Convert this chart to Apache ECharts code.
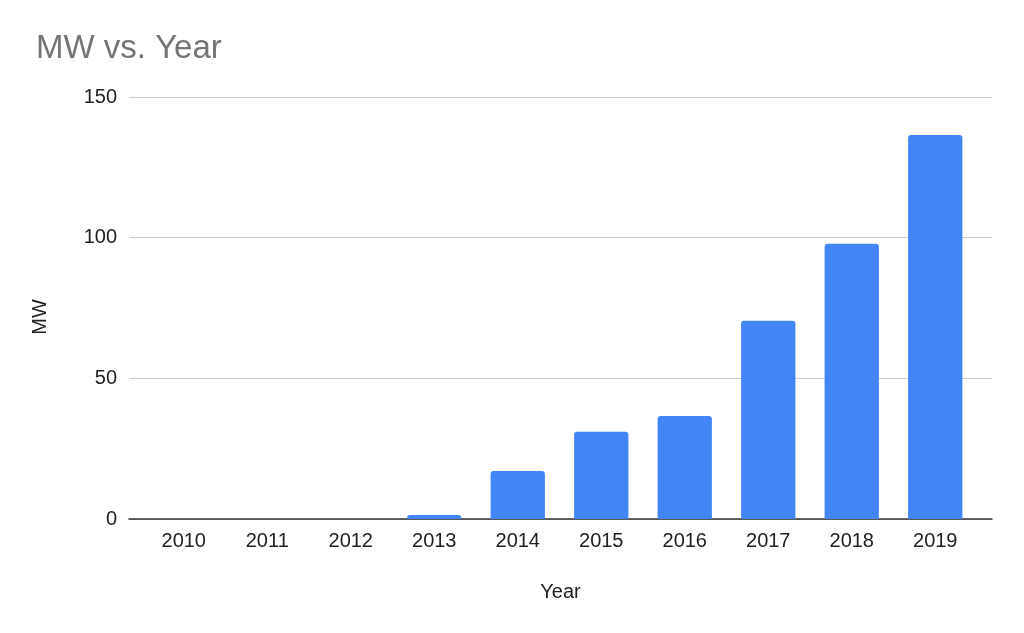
<!DOCTYPE html>
<html><head><meta charset="utf-8">
<script src="https://cdn.jsdelivr.net/npm/echarts@6/dist/echarts.min.js"></script>
<style>html,body{margin:0;padding:0;background:#fff}#c{width:1024px;height:633px}</style>
</head><body><div id="c"></div>
<script>
const years = ['2010','2011','2012','2013','2014','2015','2016','2017','2018','2019'];
const mw = [0, 0, 0, 1.4, 17.1, 31, 36.6, 70.5, 97.8, 136.5];
const yTicks = [0, 50, 100, 150];

const FONT = 'Arial';
const chart = echarts.init(document.getElementById('c'));
chart.setOption({
  animation: false,
  title: { text: 'MW vs. Year', left: 31, top: 27,
    textStyle: { fontFamily: FONT, fontSize: 33, fontWeight: 'normal', color: '#757575' } },
  grid: [
    { left: 129, right: 32, top: 97, bottom: 114 },
    { left: 142, right: 47, top: 97, bottom: 114 }
  ],
  graphic: [{
    type: 'text', x: 40, y: 317, rotation: Math.PI / 2,
    style: { text: 'MW', font: '20px Arial', fill: '#222', align: 'center', verticalAlign: 'middle' }
  }],
  xAxis: [
    { type: 'value', gridIndex: 0, min: 0, max: 1, show: true,
      axisLine: { show: true, lineStyle: { color: '#333', width: 1.5 } },
      axisTick: { show: false }, axisLabel: { show: false }, splitLine: { show: false },
      name: 'Year', nameLocation: 'middle', nameGap: 63,
      nameTextStyle: { fontFamily: FONT, fontSize: 20, color: '#222' } },
    { type: 'category', gridIndex: 1, data: years,
      axisLine: { show: false }, axisTick: { show: false },
      axisLabel: { fontFamily: FONT, fontSize: 20, color: '#222', margin: 12 } }
  ],
  yAxis: [
    { type: 'value', gridIndex: 0, min: yTicks[0], max: yTicks[yTicks.length-1], interval: 50,
      axisLine: { show: false }, axisTick: { show: false },
      axisLabel: { fontFamily: FONT, fontSize: 20, color: '#222', margin: 12 },
      splitLine: { lineStyle: { color: '#cccccc', width: 1 } } },
    { type: 'value', gridIndex: 1, min: yTicks[0], max: yTicks[yTicks.length-1], interval: 50, show: false }
  ],
  series: [{
    type: 'bar', xAxisIndex: 1, yAxisIndex: 1, data: mw,
    barCategoryGap: '35%',
    itemStyle: { color: '#4285F4', borderRadius: [3,3,0,0] }
  }]
});
</script></body></html>
